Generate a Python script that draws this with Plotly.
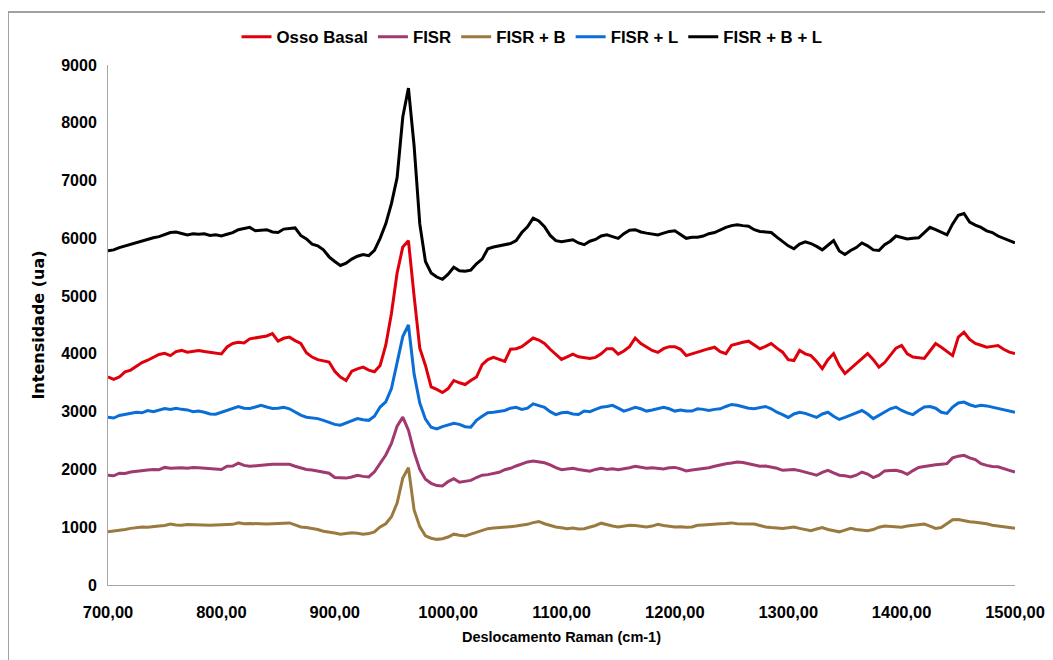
import plotly.graph_objects as go

# Raman shift grid (cm-1), 5 cm-1 step
shift = list(range(700, 1505, 5))

osso_basal = [
    3600, 3560, 3600, 3690, 3720, 3790, 3850, 3890, 3940, 3990,
    4010, 3970, 4040, 4060, 4030, 4050, 4060, 4040, 4030, 4010,
    4000, 4120, 4180, 4200, 4190, 4260, 4280, 4290, 4310, 4350,
    4220, 4270, 4290, 4230, 4180, 4020, 3945, 3900, 3885, 3860,
    3700, 3600, 3540, 3700, 3740, 3770, 3720, 3690, 3800, 4150,
    4700, 5400, 5850, 5960, 5000, 4100, 3800, 3430, 3385, 3330,
    3400, 3540, 3500, 3470, 3540, 3600, 3815, 3900, 3940, 3905,
    3870, 4080, 4090, 4125, 4200, 4275, 4240, 4180, 4080, 3995,
    3905, 3950, 3995, 3950, 3940, 3920, 3940, 4000, 4090, 4090,
    3995, 4050, 4125, 4275, 4180, 4125, 4060, 4025, 4090, 4125,
    4125, 4080, 3970, 4000, 4025, 4060, 4090, 4115, 4040, 4005,
    4150, 4180, 4200, 4220, 4150, 4090, 4130, 4180, 4100, 4030,
    3900, 3885, 4060, 4000, 3970, 3870, 3745, 3900, 4005, 3800,
    3660, 3750, 3830, 3920, 4005, 3900, 3770, 3850, 3970, 4100,
    4145, 4000, 3945, 3930, 3920, 4050, 4180, 4115, 4050, 3970,
    4290, 4375, 4250, 4180, 4150, 4115, 4130, 4145, 4080, 4030,
    4005,
]

fisr = [
    1900, 1890, 1935, 1930, 1955, 1970, 1975, 1990, 2000, 1995,
    2035, 2020, 2025, 2030, 2020, 2035, 2030, 2020, 2010, 2000,
    2000, 2055, 2060, 2110, 2070, 2055, 2060, 2070, 2080, 2090,
    2090, 2100, 2090, 2055, 2030, 2000, 1990, 1975, 1950, 1935,
    1860, 1850, 1850, 1870, 1900, 1880, 1870, 1960, 2100, 2250,
    2450, 2750, 2905, 2680, 2300, 2000, 1830, 1760, 1720, 1715,
    1790, 1840, 1780, 1790, 1810, 1860, 1900, 1910, 1935, 1950,
    1995, 2020, 2060, 2090, 2130, 2145, 2130, 2115, 2080, 2030,
    1995, 2010, 2020, 2000, 1990, 1970, 2000, 2020, 2000, 2010,
    1995, 2010, 2030, 2055, 2040, 2020, 2030, 2020, 2010, 2030,
    2035, 2010, 1975, 1990, 2000, 2015, 2030, 2055, 2080, 2100,
    2110, 2130, 2120, 2100, 2080, 2055, 2060, 2045, 2020, 1985,
    1990, 2000, 1980, 1950, 1930, 1900, 1950, 1985, 1940, 1900,
    1890, 1870, 1900, 1955, 1920, 1860, 1900, 1975, 1980, 1985,
    1960, 1915, 1980, 2035, 2050, 2070, 2080, 2090, 2100, 2200,
    2230, 2245, 2200, 2170, 2100, 2070, 2050, 2045, 2010, 1985,
    1955,
]

fisr_b = [
    920, 930, 950, 960, 980, 990, 1005, 1000, 1015, 1020,
    1030, 1055, 1040, 1035, 1045, 1040, 1045, 1030, 1035, 1040,
    1045, 1055, 1050, 1075, 1060, 1065, 1060, 1050, 1055, 1060,
    1065, 1070, 1075, 1040, 1005, 995, 980, 960, 930, 920,
    900, 880, 890, 905, 895, 880, 890, 920, 1005, 1060,
    1180, 1420, 1850, 2030, 1300, 1010, 850, 810, 790, 800,
    830, 880, 860, 850, 880, 915, 940, 975, 985, 990,
    1005, 1010, 1020, 1035, 1050, 1080, 1100, 1060, 1030, 1005,
    990, 975, 985, 970, 975, 1000, 1030, 1070, 1040, 1020,
    1005, 1020, 1035, 1030, 1015, 1005, 1020, 1050, 1030, 1015,
    1005, 1010, 1000, 1005, 1035, 1040, 1050, 1055, 1060, 1065,
    1075, 1060, 1055, 1050, 1055, 1030, 1005, 995, 990, 980,
    990, 1005, 980, 960, 940, 970, 995, 960, 935, 920,
    950, 980, 960, 945, 940, 960, 1000, 1020, 1010, 1005,
    1000, 1020, 1035, 1040, 1055, 1020, 980, 995, 1060, 1130,
    1135, 1110, 1095, 1085, 1075, 1060, 1035, 1020, 1000, 995,
    980,
]

fisr_l = [
    2905, 2890, 2935, 2950, 2970, 2990, 2980, 3020, 3000, 3030,
    3055, 3040, 3060, 3040, 3030, 3000, 3010, 2990, 2960, 2955,
    2990, 3020, 3050, 3090, 3060, 3055, 3080, 3110, 3080, 3055,
    3060, 3075, 3050, 2990, 2940, 2905, 2895, 2880, 2850, 2820,
    2780, 2765, 2800, 2840, 2880, 2860, 2850, 2920, 3080, 3170,
    3400, 3850, 4300, 4500, 3650, 3150, 2870, 2730, 2700, 2740,
    2770, 2800, 2780, 2740, 2730, 2850, 2920, 2980, 2990, 3010,
    3020, 3060, 3075, 3040, 3060, 3135, 3100, 3075, 3000, 2950,
    2980, 2990, 2960, 2950, 3010, 3000, 3040, 3075, 3090, 3110,
    3060, 3010, 3040, 3075, 3050, 3010, 3030, 3050, 3075, 3050,
    3010, 3030, 3010, 3010, 3050, 3040, 3020, 3040, 3050, 3090,
    3125, 3110, 3080, 3060, 3050, 3070, 3090, 3050, 2990, 2950,
    2900, 2960, 2990, 2970, 2940, 2900, 2960, 2990, 2920, 2865,
    2900, 2935, 2980, 3020, 2960, 2880, 2940, 2990, 3050, 3080,
    3020, 2980, 2950, 3020, 3080, 3090, 3060, 2990, 2970, 3080,
    3150, 3165, 3120, 3090, 3110, 3100, 3080, 3060, 3040, 3010,
    2990,
]

fisr_b_l = [
    5785, 5800, 5840, 5870, 5890, 5930, 5960, 5990, 6010, 6030,
    6060, 6100, 6110, 6090, 6060, 6080, 6070, 6080, 6050, 6060,
    6040, 6070, 6100, 6150, 6170, 6190, 6130, 6140, 6150, 6110,
    6100, 6160, 6175, 6180, 6050, 5990, 5900, 5870, 5800, 5680,
    5600, 5530, 5570, 5640, 5690, 5720, 5700, 5790, 6000, 6250,
    6600, 7050, 8100, 8600, 7600, 6250, 5600, 5400, 5330, 5290,
    5380, 5500, 5440, 5430, 5450, 5560, 5640, 5820, 5850, 5870,
    5880, 5910, 5960, 6100, 6200, 6350, 6300, 6200, 6050, 5960,
    5940, 5960, 5975, 5920, 5890, 5950, 5980, 6040, 6060, 6030,
    6000, 6080, 6140, 6150, 6110, 6090, 6070, 6060, 6090, 6120,
    6130, 6060, 6000, 6020, 6020, 6040, 6080, 6100, 6150, 6190,
    6220, 6235, 6220, 6210, 6150, 6120, 6110, 6100, 6020, 5940,
    5870, 5820, 5900, 5940, 5910, 5860, 5800, 5880, 5960, 5780,
    5720, 5790, 5840, 5920, 5870, 5800, 5790, 5890, 5950, 6040,
    6020, 5990, 6000, 6010, 6100, 6190, 6150, 6100, 6060, 6250,
    6400, 6430, 6280, 6230, 6190, 6130, 6100, 6040, 6000, 5950,
    5920,
]

series = [
    ("Osso Basal", osso_basal, "#E0000B"),
    ("FISR", fisr, "#A0396E"),
    ("FISR + B", fisr_b, "#9A7A3E"),
    ("FISR + L", fisr_l, "#0A6ED6"),
    ("FISR + B + L", fisr_b_l, "#000000"),
]

fig = go.Figure()
for name, values, color in series:
    fig.add_trace(
        go.Scatter(
            x=shift,
            y=values,
            mode="lines",
            name=name,
            line=dict(color=color, width=3),
        )
    )


def bold(size, family="Arial"):
    return dict(family=family, size=size, color="#000000", weight="bold")


# page body has an 8px margin, so the figure is shrunk to fit the window
fig.update_layout(
    width=1045,
    height=652,
    margin=dict(l=100, r=38, t=56, b=75),
    paper_bgcolor="white",
    plot_bgcolor="white",
    separators=", ",
    showlegend=True,
    legend=dict(
        orientation="h",
        x=0.4675,
        xanchor="center",
        y=1.052,
        yanchor="middle",
        font=bold(16.8),
        itemwidth=30,
        tracegroupgap=0,
    ),
    xaxis=dict(
        range=[700, 1500],
        tick0=700,
        dtick=100,
        tickformat=".2f",
        automargin=False,
        showgrid=False,
        zeroline=False,
        showline=True,
        linecolor="#A6A6A6",
        linewidth=1,
        ticks="",
        ticklabelstandoff=12,
        tickfont=bold(16.5),
        title=dict(text="Deslocamento Raman (cm-1)", font=bold(14.5), standoff=12),
    ),
    yaxis=dict(
        range=[0, 9000],
        dtick=1000,
        automargin=False,
        showgrid=False,
        zeroline=False,
        showline=True,
        linecolor="#A6A6A6",
        linewidth=1,
        ticks="",
        ticklabelstandoff=7,
        tickfont=bold(16),
        title=dict(text="Intensidade (ua)", font=bold(16, "DejaVu Sans"), standoff=12),
    ),
    shapes=[
        dict(
            type="rect",
            xref="paper",
            yref="paper",
            x0=-0.1103,
            x1=1.0353,
            y0=-0.15,
            y1=1.1017,
            line=dict(color="#A0A0A0", width=2),
            fillcolor="rgba(0,0,0,0)",
            layer="above",
        )
    ],
)

fig.write_html("out.html")
